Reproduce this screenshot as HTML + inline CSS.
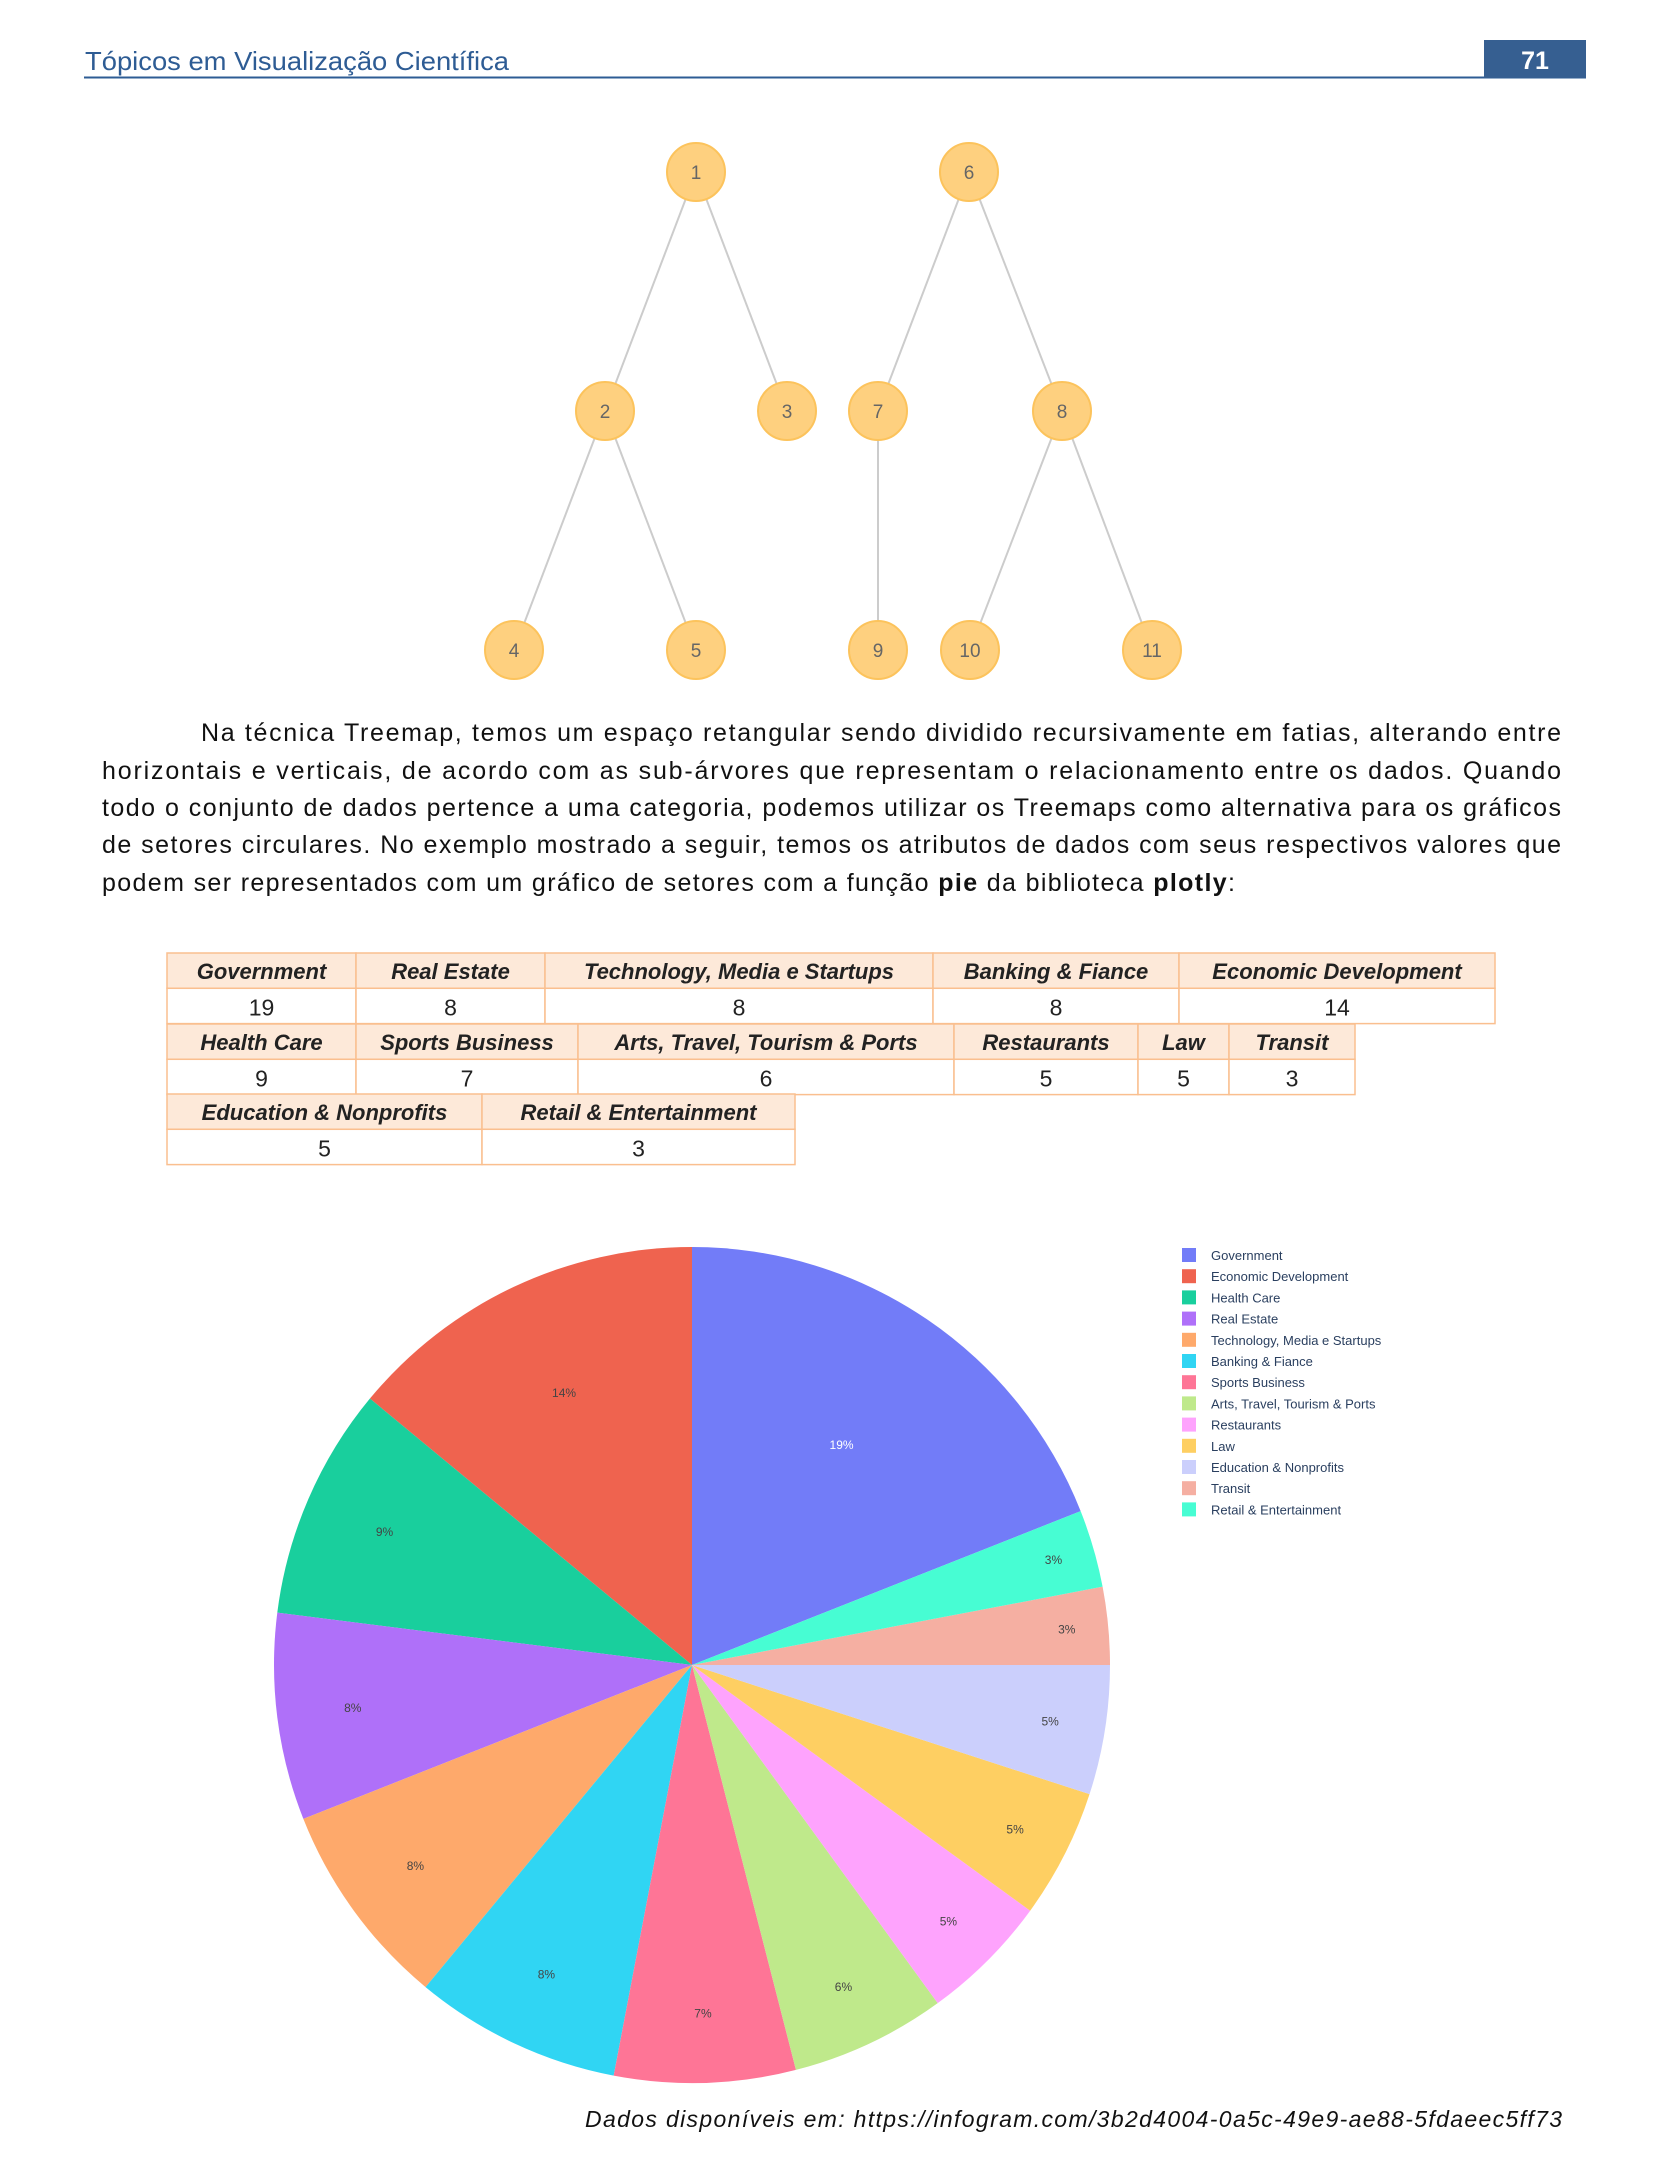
<!DOCTYPE html>
<html><head><meta charset="utf-8"><style>
html,body{margin:0;padding:0;background:#fff;}
svg{display:block;font-family:"Liberation Sans",sans-serif;}
</style></head><body>
<svg id="page" width="1654" height="2164" viewBox="0 0 1654 2164" xmlns="http://www.w3.org/2000/svg">
<g>
<text x="85" y="70" font-size="26" fill="#2e5c94" textLength="424" lengthAdjust="spacingAndGlyphs">Tópicos em Visualização Científica</text>
<line x1="84" y1="77.5" x2="1586" y2="77.5" stroke="#2e5c94" stroke-width="2"/>
<rect x="1484" y="40" width="102" height="38" fill="#365f91"/>
<text x="1535" y="69" font-size="25" font-weight="bold" fill="#fff" text-anchor="middle">71</text>
</g>
<g id="tree"></g>
<g font-size="25" fill="#111">
<text x="201" y="741" textLength="1360" lengthAdjust="spacing">Na técnica Treemap, temos um espaço retangular sendo dividido recursivamente em fatias, alterando entre</text>
<text x="102" y="779" textLength="1459" lengthAdjust="spacing">horizontais e verticais, de acordo com as sub-árvores que representam o relacionamento entre os dados. Quando</text>
<text x="102" y="816" textLength="1459" lengthAdjust="spacing">todo o conjunto de dados pertence a uma categoria, podemos utilizar os Treemaps como alternativa para os gráficos</text>
<text x="102" y="853" textLength="1459" lengthAdjust="spacing">de setores circulares. No exemplo mostrado a seguir, temos os atributos de dados com seus respectivos valores que</text>
<text x="102" y="891" textLength="1133" lengthAdjust="spacing">podem ser representados com um gráfico de setores com a função <tspan font-weight="bold">pie</tspan> da biblioteca <tspan font-weight="bold">plotly</tspan>:</text>
</g>
<g id="table"></g>
<g id="pie"></g>
<g id="legend"></g>
<text x="1562" y="2127" font-size="23" font-style="italic" fill="#111" text-anchor="end" textLength="977" lengthAdjust="spacing">Dados disponíveis em: https://infogram.com/3b2d4004-0a5c-49e9-ae88-5fdaeec5ff73</text>
</svg>
<script>
const NS='http://www.w3.org/2000/svg';
// tree data
const treeNodes=['1','2','3','4','5','6','7','8','9','10','11'];
const treeEdges=[['1','2'],['1','3'],['2','4'],['2','5'],['6','7'],['6','8'],['7','9'],['8','10'],['8','11']];
// table data
const tableRow1Labels=['Government','Real Estate','Technology, Media e Startups','Banking & Fiance','Economic Development'];
const tableRow1Values=[19,8,8,8,14];
const tableRow2Labels=['Health Care','Sports Business','Arts, Travel, Tourism & Ports','Restaurants','Law','Transit'];
const tableRow2Values=[9,7,6,5,5,3];
const tableRow3Labels=['Education & Nonprofits','Retail & Entertainment'];
const tableRow3Values=[5,3];
// pie data (sorted as plotted)
const pieLabels=['Government','Economic Development','Health Care','Real Estate','Technology, Media e Startups','Banking & Fiance','Sports Business','Arts, Travel, Tourism & Ports','Restaurants','Law','Education & Nonprofits','Transit','Retail & Entertainment'];
const pieValues=[19,14,9,8,8,8,7,6,5,5,5,3,3];
const pieColors=['#727cf8','#ef634f','#19cf9d','#af70f9','#fea96b','#30d5f3','#fe7596','#bfe98b','#fea3fd','#fecf62','#cbcffc','#f5afa2','#47fdd3'];

function mk(tag,attrs,parent){const e=document.createElementNS(NS,tag);for(const k in attrs)e.setAttribute(k,attrs[k]);parent.appendChild(e);return e;}

// tree layout positions
const nodePos={'1':[696,172],'6':[969,172],'2':[605,411],'3':[787,411],'7':[878,411],'8':[1062,411],'4':[514,650],'5':[696,650],'9':[878,650],'10':[970,650],'11':[1152,650]};
const tree=document.getElementById('tree');
treeEdges.forEach(([a,b])=>{
  const l=mk('line',{x1:nodePos[a][0],y1:nodePos[a][1],x2:nodePos[b][0],y2:nodePos[b][1],stroke:'#cccccc','stroke-width':2},tree);
  
  
});
treeNodes.forEach(n=>{
  const [x,y]=nodePos[n];
  const g=mk('g',{},tree);
  
  
  mk('circle',{cx:x,cy:y,r:29,fill:'#fed07f',stroke:'#fcc35c','stroke-width':2},g);
  mk('text',{x:x,y:y+7,'font-size':19,fill:'#666','text-anchor':'middle'},g).textContent=n;
});

// table
const table=document.getElementById('table');
const rowsLayout=[
 {top:953,cols:[167,356,545,933,1179,1495],labels:tableRow1Labels,values:tableRow1Values},
 {top:1024,cols:[167,356,578,954,1138,1229,1355],labels:tableRow2Labels,values:tableRow2Values},
 {top:1094,cols:[167,482,795],labels:tableRow3Labels,values:tableRow3Values}];
const RH=35.3;
rowsLayout.forEach((r,ri)=>{
  r.labels.forEach((lab,i)=>{
    const x0=r.cols[i],x1=r.cols[i+1],cx=(x0+x1)/2;
    const h=mk('rect',{x:x0,y:r.top,width:x1-x0,height:RH,fill:'#fde9d9',stroke:'#fabf8f','stroke-width':1.5},table);
    
    
    const v=mk('rect',{x:x0,y:r.top+RH,width:x1-x0,height:RH,fill:'#fff',stroke:'#fabf8f','stroke-width':1.5},table);
    
    
    const t=mk('text',{x:cx,y:r.top+26,'font-size':22,'font-weight':'bold','font-style':'italic',fill:'#222','text-anchor':'middle'},table);
    t.textContent=lab;
    
    
    const tv=mk('text',{x:cx,y:r.top+RH+27,'font-size':23,fill:'#222','text-anchor':'middle'},table);
    tv.textContent=r.values[i];
    
    
  });
});

// pie
const pie=document.getElementById('pie');
const CX=692,CY=1665,R=418;
const total=pieValues.reduce((a,b)=>a+b,0);
function pt(deg,r){const a=deg*Math.PI/180;return [CX+r*Math.sin(a),CY-r*Math.cos(a)];}
let start=pieValues[0]/total*360; // clockwise-from-top angle; slices run counterclockwise
pieValues.forEach((v,i)=>{
  const sweep=v/total*360, end=start-sweep;
  const [x1,y1]=pt(start,R),[x2,y2]=pt(end,R);
  const p=mk('path',{d:`M${CX},${CY} L${x1},${y1} A${R},${R} 0 ${sweep>180?1:0} 0 ${x2},${y2} Z`,fill:pieColors[i]},pie);
  
  
  const mid=(start+end)/2, frac=Math.min(0.92,0.95-0.0165*v);
  const [tx,ty]=pt(mid,R*frac);
  const t=mk('text',{x:tx,y:ty+4,'font-size':12,fill:i===0?'#fff':'#444','text-anchor':'middle'},pie);
  t.textContent=Math.round(v/total*100)+'%';
  
  
  start=end;
});

// legend
const legend=document.getElementById('legend');
pieLabels.forEach((lab,i)=>{
  const y=1255+i*21.2;
  const g=mk('g',{},legend);
  
  
  mk('rect',{x:1182,y:y-7,width:14,height:14,fill:pieColors[i]},g);
  mk('text',{x:1211,y:y+5,'font-size':13,fill:'#2a3f5f'},g).textContent=lab;
});
</script>
</body></html>
